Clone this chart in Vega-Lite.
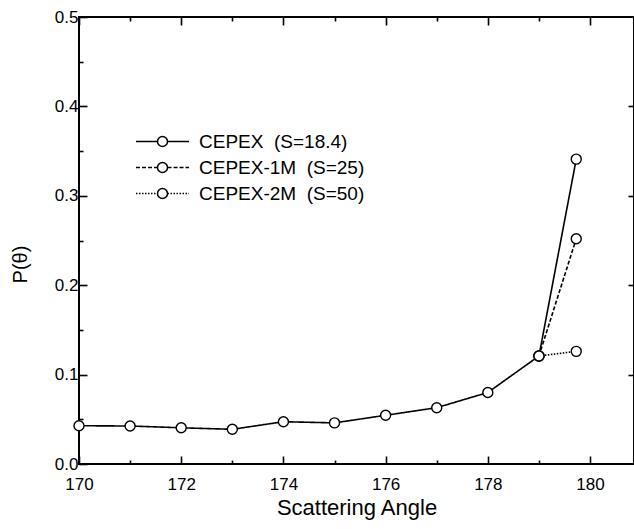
{
  "$schema": "https://vega.github.io/schema/vega-lite/v6.json",
  "width": 555,
  "height": 447,
  "autosize": {"type": "none"},
  "padding": {"left": 79, "top": 17, "right": 0, "bottom": 65},
  "background": "white",
  "config": {
    "font": "Liberation Sans",
    "view": {"stroke": "black", "strokeWidth": 2},
    "axis": {"domain": false, "grid": false, "tickColor": "black", "tickWidth": 1.6, "labelColor": "black", "titleColor": "black", "labelFont": "Liberation Sans", "titleFont": "Liberation Sans", "titleFontWeight": "normal"},
    "legend": {"labelFont": "Liberation Sans", "padding": 0}
  },
  "data": {
    "values": [
      {"angle": 170, "p": 0.0428, "series": "CEPEX\u00a0\u00a0(S=18.4)"},
      {"angle": 171, "p": 0.0425, "series": "CEPEX\u00a0\u00a0(S=18.4)"},
      {"angle": 172, "p": 0.0405, "series": "CEPEX\u00a0\u00a0(S=18.4)"},
      {"angle": 173, "p": 0.0388, "series": "CEPEX\u00a0\u00a0(S=18.4)"},
      {"angle": 174, "p": 0.0473, "series": "CEPEX\u00a0\u00a0(S=18.4)"},
      {"angle": 175, "p": 0.0460, "series": "CEPEX\u00a0\u00a0(S=18.4)"},
      {"angle": 176, "p": 0.0545, "series": "CEPEX\u00a0\u00a0(S=18.4)"},
      {"angle": 177, "p": 0.0630, "series": "CEPEX\u00a0\u00a0(S=18.4)"},
      {"angle": 178, "p": 0.0800, "series": "CEPEX\u00a0\u00a0(S=18.4)"},
      {"angle": 179, "p": 0.1208, "series": "CEPEX\u00a0\u00a0(S=18.4)"},
      {"angle": 179.73, "p": 0.341, "series": "CEPEX\u00a0\u00a0(S=18.4)"},
      {"angle": 179, "p": 0.1208, "series": "CEPEX-1M\u00a0\u00a0(S=25)"},
      {"angle": 179.73, "p": 0.252, "series": "CEPEX-1M\u00a0\u00a0(S=25)"},
      {"angle": 179, "p": 0.1208, "series": "CEPEX-2M\u00a0\u00a0(S=50)"},
      {"angle": 179.73, "p": 0.126, "series": "CEPEX-2M\u00a0\u00a0(S=50)"}
    ]
  },
  "resolve": {"axis": {"x": "independent", "y": "independent"}},
  "layer": [
    {
      "mark": {"type": "line", "color": "black", "strokeWidth": 1.6},
      "encoding": {
        "x": {"field": "angle", "type": "quantitative", "scale": {"domain": [170, 180.86], "nice": false, "zero": false},
          "axis": {"orient": "bottom", "values": [170,171,172,173,174,175,176,177,178,179,180], "labelExpr": "datum.value % 2 === 0 ? datum.label : ''", "tickSize": {"condition": {"test": "datum.value % 2 === 0", "value": -8}, "value": -4}, "labelPadding": 20, "labelFontSize": 17, "title": "Scattering Angle", "titleFontSize": 22, "titlePadding": 5, "labelFlush": false}},
        "y": {"field": "p", "type": "quantitative", "scale": {"domain": [0, 0.5], "nice": false},
          "axis": {"orient": "left", "values": [0,0.05,0.1,0.15,0.2,0.25,0.3,0.35,0.4,0.45,0.5], "format": ".1f", "labelExpr": "round(datum.value*100) % 10 === 0 ? datum.label : ''", "tickSize": {"condition": {"test": "round(datum.value*100) % 10 === 0", "value": -8}, "value": -4}, "labelPadding": 9, "labelFontSize": 17, "title": "P(θ)", "titleFontSize": 20, "titlePadding": 24, "titleY": 247}},
        "strokeDash": {"field": "series", "type": "nominal",
          "scale": {"domain": ["CEPEX\u00a0\u00a0(S=18.4)", "CEPEX-1M\u00a0\u00a0(S=25)", "CEPEX-2M\u00a0\u00a0(S=50)"], "range": [[1,0],[4,2],[1.5,1.5]]},
          "legend": {"orient": "none", "legendX": 56, "legendY": 115, "title": null, "symbolType": "M-1,0L-0.19,0M0.19,0L1,0", "symbolSize": 2809, "symbolStrokeWidth": 1.5, "symbolStrokeColor": "black", "labelFontSize": 19, "labelOffset": 9, "rowPadding": 6, "clipHeight": 19, "labelLimit": 400, "labelColor": "black"}}
      }
    },
    {
      "mark": {"type": "point", "filled": true, "fill": "white", "stroke": "black", "strokeWidth": 1.4, "size": 100, "opacity": 1},
      "encoding": {
        "x": {"field": "angle", "type": "quantitative",
          "axis": {"orient": "top", "values": [170,171,172,173,174,175,176,177,178,179,180], "labels": false, "tickSize": {"condition": {"test": "datum.value % 2 === 0", "value": -8}, "value": -4}, "title": null}},
        "y": {"field": "p", "type": "quantitative",
          "axis": {"orient": "right", "values": [0.1,0.2,0.3,0.4], "labels": false, "tickSize": -6, "title": null}},
        "shape": {"field": "series", "type": "nominal",
          "scale": {"domain": ["CEPEX-2M\u00a0\u00a0(S=50)", "CEPEX-1M\u00a0\u00a0(S=25)", "CEPEX\u00a0\u00a0(S=18.4)"], "range": ["circle","circle","circle"]},
          "legend": {"orient": "none", "legendX": 74, "legendY": 115, "title": null, "symbolSize": 100, "labelFontSize": 19, "labelOffset": 9, "rowPadding": 6, "labelExpr": "'\u00a0'", "labelColor": "rgba(0,0,0,0)"}}
      }
    }
  ]
}
